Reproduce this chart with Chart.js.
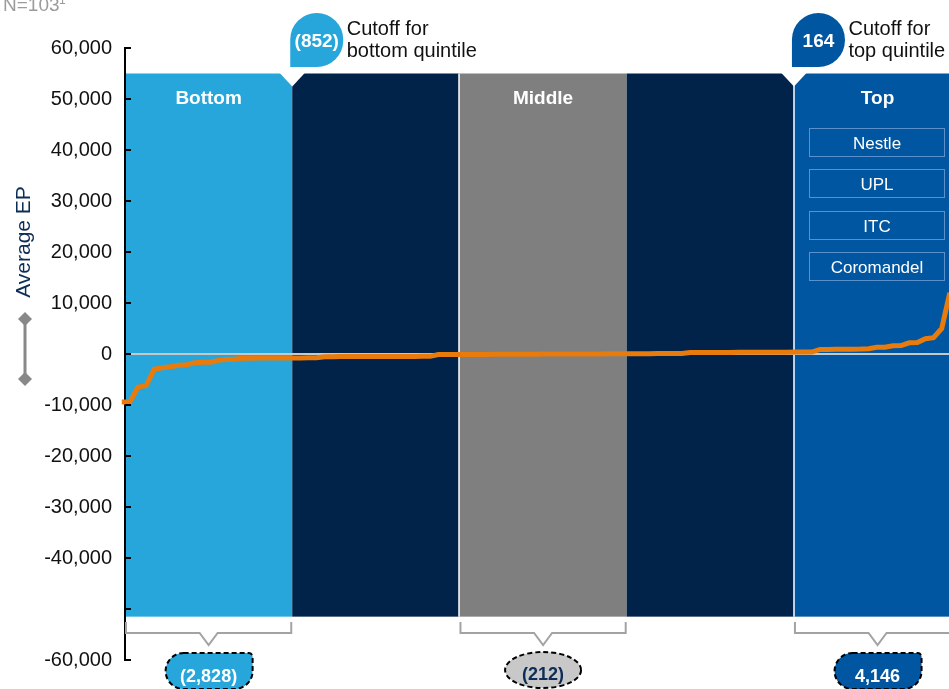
<!DOCTYPE html>
<html>
<head>
<meta charset="utf-8">
<script src="https://cdn.jsdelivr.net/npm/chart.js@4.4.1/dist/chart.umd.min.js"></script>
<style>
  html, body { margin: 0; padding: 0; background: #fff; overflow: hidden; }
  #wrap { width: 949px; height: 689px; position: relative; }
</style>
</head>
<body>
<div id="wrap"><canvas id="epChart"></canvas></div>
<script>
// Average economic profit per company, sorted low to high (N=103)
const companyEP = [
  -9400, -9400, -6500, -6200, -3000, -2700, -2500, -2200, -2100, -1700,
  -1600, -1600, -1200, -1100, -1000, -850, -850, -800, -800, -800,
  -800, -800, -800, -750, -750, -550, -550, -500, -500, -500,
  -500, -500, -500, -500, -480, -480, -480, -460, -460, -120,
  -110, -100, -100, -90, -80, -80, -70, -60, -50, -50,
  -40, -30, -20, -20, -10, 0, 0, 10, 20, 20,
  30, 40, 50, 50, 60, 70, 80, 90, 100, 110,
  280, 290, 300, 300, 300, 310, 320, 320, 330, 340,
  340, 350, 360, 370, 380, 390, 900, 900, 920, 940,
  950, 980, 1050, 1300, 1320, 1600, 1650, 2200, 2250, 3000,
  3200, 5000, 12000
];

// Quintile bands (edges in company-index units)
const quintileNames = ['Bottom', '', 'Middle', '', 'Top'];
const quintileEdges = [0.4, 21.0, 41.6, 62.2, 82.8, 103.4];
const quintileColors = ['#26a6db', '#01234a', '#7f7f7f', '#01234a', '#0156a2'];
const quintileTotals = ['(2,828)', '', '(212)', '', '4,146'];
const bandTop = 55000;
const bandBottom = -51500;

// Cutoff callouts
const cutoffEdges = [1, 4];
const cutoffValues = ['(852)', '164'];
const cutoffNotes = [['Cutoff for', 'bottom quintile'], ['Cutoff for', 'top quintile']];

const topCompanies = ['Nestle', 'UPL', 'ITC', 'Coromandel'];
const hiddenTicks = [-50000];

const FONT = '"Liberation Sans", Arial, Helvetica, sans-serif';
const NAVY = '#0c2d57';

const decorPlugin = {
  id: 'decor',
  beforeDraw(chart) {
    const { ctx, scales: { x, y } } = chart;
    const top = y.getPixelForValue(bandTop);
    const bottom = y.getPixelForValue(bandBottom);
    ctx.save();

    // bands
    quintileColors.forEach((c, k) => {
      const x0 = x.getPixelForValue(quintileEdges[k]);
      const x1 = x.getPixelForValue(quintileEdges[k + 1]);
      ctx.fillStyle = c;
      ctx.fillRect(x0, top, x1 - x0, bottom - top);
    });

    // thin white separators
    ctx.strokeStyle = '#fff';
    ctx.lineWidth = 1.5;
    [2, 4].forEach(k => {
      const px = Math.round(x.getPixelForValue(quintileEdges[k]));
      ctx.beginPath();
      ctx.moveTo(px, top);
      ctx.lineTo(px, bottom);
      ctx.stroke();
    });

    // notches under the cutoff callouts
    ctx.fillStyle = '#fff';
    cutoffEdges.forEach(k => {
      const px = x.getPixelForValue(quintileEdges[k]);
      ctx.beginPath();
      ctx.moveTo(px - 13, top - 1);
      ctx.lineTo(px, top + 13);
      ctx.lineTo(px + 13, top - 1);
      ctx.closePath();
      ctx.fill();
    });

    // band labels
    ctx.font = 'bold 19px ' + FONT;
    ctx.textAlign = 'center';
    ctx.textBaseline = 'alphabetic';
    quintileNames.forEach((name, k) => {
      if (!name) return;
      const x0 = x.getPixelForValue(quintileEdges[k]);
      const x1 = x.getPixelForValue(quintileEdges[k + 1]);
      ctx.fillText(name, (x0 + x1) / 2, top + 30);
    });

    // company boxes in the top quintile
    const tx0 = x.getPixelForValue(quintileEdges[4]);
    ctx.font = '17px ' + FONT;
    ctx.strokeStyle = '#5a90cb';
    ctx.lineWidth = 1;
    topCompanies.forEach((name, j) => {
      const bx = Math.round(tx0 + 15) + 0.5;
      const by = Math.round(128 + j * 41.3) + 0.5;
      const bw = 135, bh = 28;
      ctx.strokeRect(bx, by, bw, bh);
      ctx.fillText(name, bx + bw / 2, by + 20.5);
    });
    ctx.restore();
  },

  afterDraw(chart) {
    const { ctx, chartArea, scales: { x, y } } = chart;
    ctx.save();

    // inward tick marks on the y axis
    ctx.strokeStyle = '#000';
    ctx.lineWidth = 2;
    y.ticks.forEach(t => {
      const py = Math.round(y.getPixelForValue(t.value));
      ctx.beginPath();
      ctx.moveTo(chartArea.left, py);
      ctx.lineTo(chartArea.left + 6, py);
      ctx.stroke();
    });

    // cutoff callouts
    cutoffEdges.forEach((k, j) => {
      const px = x.getPixelForValue(quintileEdges[k]) - 2;
      ctx.fillStyle = j === 0 ? quintileColors[0] : quintileColors[4];
      ctx.beginPath();
      ctx.roundRect(px, 13, 53, 54, [27, 27, 27, 0]);
      ctx.fill();
      ctx.fillStyle = '#fff';
      ctx.font = 'bold 19px ' + FONT;
      ctx.textAlign = 'center';
      ctx.fillText(cutoffValues[j], px + 26.5, 47);
      ctx.fillStyle = '#111';
      ctx.font = '20px ' + FONT;
      ctx.textAlign = 'left';
      cutoffNotes[j].forEach((line, r) => ctx.fillText(line, px + 56.5, 35 + r * 22));
    });

    // braces under the bands
    ctx.strokeStyle = '#a3a3a3';
    ctx.lineWidth = 2;
    [0, 2, 4].forEach(k => {
      const x0 = x.getPixelForValue(quintileEdges[k]) + 1;
      const x1 = x.getPixelForValue(quintileEdges[k + 1]) - 1;
      const cx = (x0 + x1) / 2;
      ctx.beginPath();
      ctx.moveTo(x0, 622);
      ctx.lineTo(x0, 633);
      ctx.lineTo(cx - 9, 633);
      ctx.lineTo(cx, 645);
      ctx.lineTo(cx + 9, 633);
      ctx.lineTo(x1, 633);
      ctx.lineTo(x1, 622);
      ctx.stroke();
    });

    // quintile totals
    [0, 2, 4].forEach(k => {
      const x0 = x.getPixelForValue(quintileEdges[k]);
      const x1 = x.getPixelForValue(quintileEdges[k + 1]);
      const cx = (x0 + x1) / 2;
      ctx.beginPath();
      if (k === 2) {
        ctx.ellipse(cx, 670, 38, 18, 0, 0, Math.PI * 2);
        ctx.fillStyle = '#c8c8c8';
      } else {
        ctx.roundRect(cx - 43, 653, 87, 36, [18, 4, 18, 18]);
        ctx.fillStyle = quintileColors[k];
      }
      ctx.fill();
      ctx.setLineDash([5, 3]);
      ctx.strokeStyle = '#000';
      ctx.lineWidth = 2;
      ctx.stroke();
      ctx.setLineDash([]);
      ctx.fillStyle = k === 2 ? NAVY : '#fff';
      ctx.font = 'bold 18px ' + FONT;
      ctx.textAlign = 'center';
      ctx.fillText(quintileTotals[k], cx, k === 2 ? 680 : 682);
    });

    // y axis title
    ctx.save();
    ctx.translate(30, 242);
    ctx.rotate(-Math.PI / 2);
    ctx.fillStyle = NAVY;
    ctx.font = '21px ' + FONT;
    ctx.textAlign = 'center';
    ctx.fillText('Average EP', 0, 0);
    ctx.restore();

    // double-diamond marker
    ctx.strokeStyle = '#888';
    ctx.fillStyle = '#888';
    ctx.lineWidth = 3;
    ctx.beginPath();
    ctx.moveTo(25, 319);
    ctx.lineTo(25, 379);
    ctx.stroke();
    [319, 379].forEach(cy => {
      ctx.beginPath();
      ctx.moveTo(25, cy - 7);
      ctx.lineTo(32, cy);
      ctx.lineTo(25, cy + 7);
      ctx.lineTo(18, cy);
      ctx.closePath();
      ctx.fill();
    });

    // sample size note
    ctx.fillStyle = '#9b9b9b';
    ctx.textAlign = 'left';
    ctx.font = '19px ' + FONT;
    ctx.fillText('N=103', 3, 11);
    ctx.font = '12px ' + FONT;
    ctx.fillText('1', 59, 4);

    ctx.restore();
  }
};

new Chart(document.getElementById('epChart'), {
  type: 'line',
  data: {
    datasets: [{
      data: companyEP.map((v, i) => ({ x: i, y: v })),
      borderColor: '#e97b0c',
      borderWidth: 5,
      pointRadius: 0,
      tension: 0,
      clip: { left: 6, top: 0, right: 0, bottom: 0 }
    }]
  },
  options: {
    responsive: true,
    maintainAspectRatio: false,
    animation: false,
    layout: { padding: { top: 48, bottom: 29, left: 0, right: 0 } },
    plugins: { legend: { display: false }, tooltip: { enabled: false } },
    scales: {
      x: { type: 'linear', display: false, min: 0.4, max: 101.9 },
      y: {
        min: -60000,
        max: 60000,
        afterFit(scale) { scale.width = 125; },
        border: { display: true, color: '#000', width: 2 },
        grid: {
          drawTicks: false,
          lineWidth: 2,
          color: c => (c.tick && c.tick.value === 0 ? '#c8c8c8' : 'rgba(0,0,0,0)')
        },
        ticks: {
          stepSize: 10000,
          autoSkip: false,
          padding: 13,
          color: '#111',
          font: { size: 20, family: FONT },
          callback: v => (hiddenTicks.includes(v) ? '' : v.toLocaleString('en-US'))
        }
      }
    }
  },
  plugins: [decorPlugin]
});
</script>
</body>
</html>
